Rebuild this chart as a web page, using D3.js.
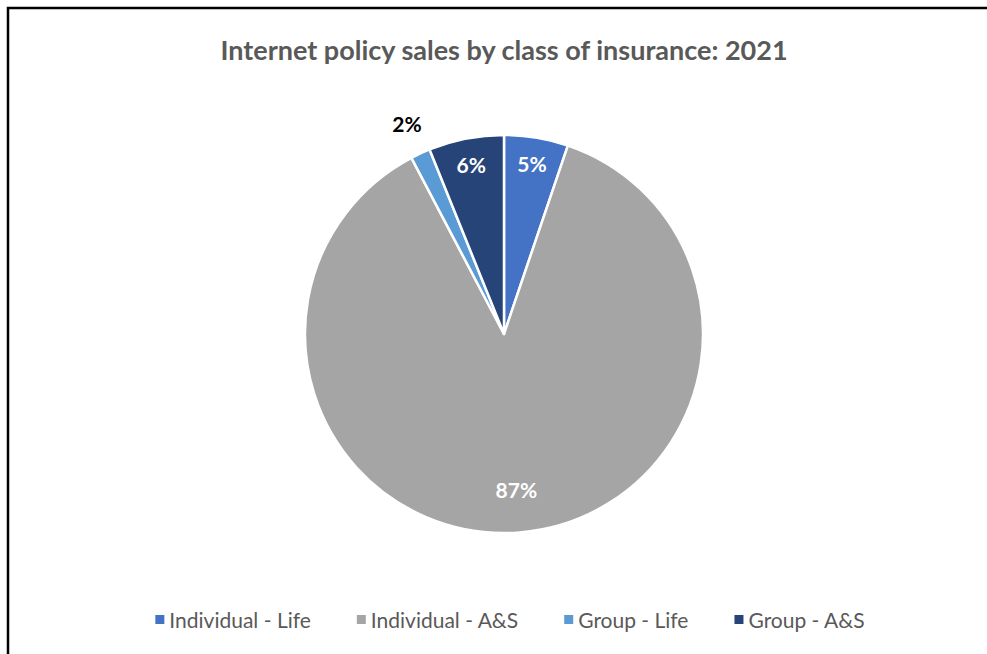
<!DOCTYPE html>
<html>
<head>
<meta charset="utf-8">
<script src="https://cdn.jsdelivr.net/npm/d3@7"></script>
<style>
  html, body { margin: 0; padding: 0; background: #fff; }
  svg { display: block; }
  text { font-family: Lato, "Open Sans", "DejaVu Sans", sans-serif; }
</style>
</head>
<body>
<script>
// Share of internet policy sales by class of insurance, 2021 (percent)
const categories = ["Individual - Life", "Individual - A&S", "Group - Life", "Group - A&S"];
const shares = [5.2, 87.1, 1.6, 6.1];
const shareLabels = ["5%", "87%", "2%", "6%"];
const colors = ["#4472C4", "#A5A5A5", "#5B9BD5", "#264478"];
const titleText = "Internet policy sales by class of insurance: 2021";

const W = 987, H = 654;
const svg = d3.select("body").append("svg").attr("width", W).attr("height", H);

// chart frame (right and bottom edges run off the page)
svg.append("rect")
  .attr("x", 8).attr("y", 8).attr("width", W + 20).attr("height", H + 20)
  .attr("fill", "#fff").attr("stroke", "#000").attr("stroke-width", 2.5);

// title
svg.append("text")
  .attr("x", 504).attr("y", 60)
  .attr("text-anchor", "middle")
  .attr("font-size", 27).attr("font-weight", 700)
  .attr("fill", "#595959")
  .text(titleText);

// pie
const cx = 504, cy = 334, R = 199;
const data = categories.map((c, i) => ({ name: c, value: shares[i], label: shareLabels[i], color: colors[i] }));
const pie = d3.pie().value(d => d.value).sort(null);
const arcs = pie(data);
const arc = d3.arc().innerRadius(0).outerRadius(R);

const g = svg.append("g").attr("transform", `translate(${cx},${cy})`);
g.selectAll("path.slice").data(arcs).join("path")
  .attr("class", "slice")
  .attr("d", arc)
  .attr("fill", d => d.data.color)
  .attr("stroke", "#fff").attr("stroke-width", 2.5).attr("stroke-linejoin", "round");

// data labels: small slices labelled near the rim, thin ones outside
const labelArc = d3.arc().innerRadius(R * 0.865).outerRadius(R * 0.865);
const bigArc = d3.arc().innerRadius(R * 0.79).outerRadius(R * 0.79);
const outArc = d3.arc().innerRadius(R * 1.16).outerRadius(R * 1.16);
g.selectAll("text.lbl").data(arcs).join("text")
  .attr("class", "lbl")
  .attr("transform", d => {
    const span = d.endAngle - d.startAngle;
    const a = span < 0.15 ? outArc : (span > Math.PI ? bigArc : labelArc);
    const [x, y] = a.centroid(d);
    return `translate(${x},${y})`;
  })
  .attr("text-anchor", "middle").attr("dy", "0.36em")
  .attr("font-size", 21).attr("font-weight", 700)
  .attr("fill", d => (d.endAngle - d.startAngle) < 0.15 ? "#000" : "#fff")
  .text(d => d.data.label);

// legend
const legend = svg.append("g");
const items = legend.selectAll("g").data(data).join("g");
items.append("rect")
  .attr("width", 9).attr("height", 9).attr("y", -13)
  .attr("fill", d => d.color);
items.append("text")
  .attr("x", 14).attr("y", 0)
  .attr("font-size", 21).attr("fill", "#595959")
  .text(d => d.name);
let xPos = 0;
const gap = 46;
items.each(function () {
  const w = d3.select(this).select("text").node().getComputedTextLength() + 14;
  d3.select(this).attr("transform", `translate(${xPos},0)`);
  xPos += w + gap;
});
const total = xPos - gap;
legend.attr("transform", `translate(${510 - total / 2},628)`);
</script>
</body>
</html>
